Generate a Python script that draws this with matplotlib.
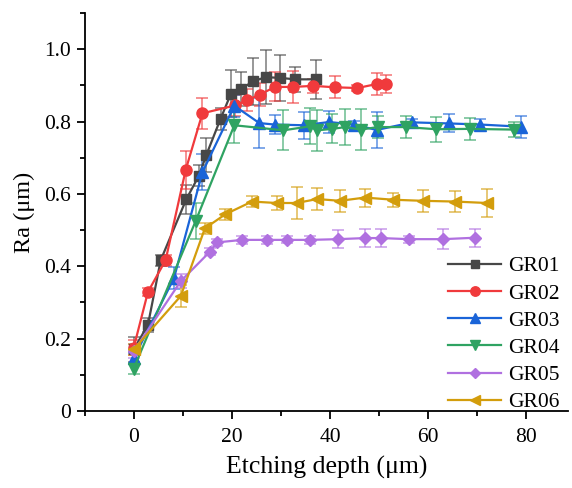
import matplotlib
matplotlib.use("Agg")
import matplotlib.pyplot as plt
from matplotlib.ticker import MultipleLocator
from matplotlib.lines import Line2D
from matplotlib.colors import to_rgba

plt.rcParams['font.family'] = ['Liberation Serif', 'DejaVu Serif']

labels = ["GR01", "GR02", "GR03", "GR04", "GR05", "GR06"]

gr01_x = [0, 2.9, 5.5, 10.7, 13.3, 14.8, 17.7, 19.8, 21.8, 24.4, 26.9, 29.9, 32.9, 37.2]
gr01_y = [0.17, 0.238, 0.417, 0.585, 0.651, 0.708, 0.808, 0.877, 0.89, 0.912, 0.923, 0.921, 0.917, 0.917]
gr01_e = [0.035, 0.02, 0.015, 0.04, 0.03, 0.047, 0.03, 0.065, 0.046, 0.065, 0.075, 0.063, 0.035, 0.053]

gr02_x = [0, 2.9, 6.5, 10.6, 14.0, 20.7, 23.1, 25.7, 28.8, 32.5, 36.6, 41.0, 45.6, 49.5, 51.4]
gr02_y = [0.175, 0.329, 0.417, 0.667, 0.823, 0.845, 0.859, 0.875, 0.896, 0.896, 0.899, 0.895, 0.893, 0.904, 0.904]
gr02_e = [0.02, 0.01, 0.015, 0.053, 0.043, 0.03, 0.03, 0.032, 0.04, 0.045, 0.02, 0.03, 0.008, 0.03, 0.025]

gr03_x = [0, 8.2, 14.0, 20.5, 25.6, 28.7, 34.7, 39.8, 44.8, 49.5, 56.8, 64.3, 70.6, 79.0]
gr03_y = [0.146, 0.367, 0.66, 0.844, 0.796, 0.792, 0.79, 0.799, 0.792, 0.777, 0.798, 0.795, 0.792, 0.786]
gr03_e = [0.015, 0.03, 0.05, 0.03, 0.07, 0.025, 0.038, 0.03, 0.01, 0.05, 0.01, 0.025, 0.015, 0.03]

gr04_x = [0, 12.65, 20.5, 30.5, 35.9, 37.4, 40.5, 43.1, 46.3, 49.7, 55.5, 61.6, 68.5, 77.5]
gr04_y = [0.117, 0.526, 0.79, 0.776, 0.787, 0.776, 0.78, 0.785, 0.778, 0.785, 0.785, 0.779, 0.78, 0.778]
gr04_e = [0.015, 0.05, 0.05, 0.055, 0.05, 0.057, 0.04, 0.05, 0.057, 0.03, 0.03, 0.035, 0.03, 0.02]

gr05_x = [0, 9.6, 15.5, 17.0, 22.1, 27.2, 31.2, 36.0, 41.7, 47.2, 50.4, 56.0, 63.1, 69.6]
gr05_y = [0.165, 0.359, 0.44, 0.466, 0.473, 0.473, 0.473, 0.473, 0.475, 0.478, 0.478, 0.475, 0.475, 0.479]
gr05_e = [0.02, 0.02, 0.01, 0.01, 0.012, 0.012, 0.01, 0.012, 0.025, 0.025, 0.025, 0.01, 0.028, 0.025]

gr06_x = [0, 9.6, 14.5, 18.7, 24.1, 29.1, 33.2, 37.4, 42.0, 47.1, 52.9, 59.0, 65.4, 72.0]
gr06_y = [0.17, 0.318, 0.505, 0.544, 0.579, 0.575, 0.575, 0.586, 0.581, 0.59, 0.584, 0.581, 0.579, 0.575]
gr06_e = [0.015, 0.03, 0.015, 0.015, 0.015, 0.02, 0.044, 0.03, 0.03, 0.025, 0.02, 0.03, 0.03, 0.04]

series = [
    (gr01_x, gr01_y, gr01_e, "#474747", "s", 7.0),
    (gr02_x, gr02_y, gr02_e, "#f03a3c", "o", 8.0),
    (gr03_x, gr03_y, gr03_e, "#1a64d8", "^", 8.0),
    (gr04_x, gr04_y, gr04_e, "#2fa362", "v", 8.0),
    (gr05_x, gr05_y, gr05_e, "#b070e0", "D", 6.5),
    (gr06_x, gr06_y, gr06_e, "#d39d0c", "<", 8.0),
]

fig = plt.figure(figsize=(5.72, 4.88), dpi=100)
ax = fig.add_axes([0.148, 0.158, 0.845, 0.815])

handles = []
for (x, y, e, c, m, ms), lab in zip(series, labels):
    ax.errorbar(x, y, yerr=e, color=c, marker=m, markersize=ms, linewidth=1.6,
                ecolor=to_rgba(c, 0.6), elinewidth=1.3, capsize=4, capthick=1.3,
                zorder=3)
    handles.append(Line2D([], [], color=c, marker=m, markersize=ms * 0.85,
                          linewidth=1.6, label=lab))

ax.set_xlim(-10, 88.5)
ax.set_ylim(0, 1.1)
ax.xaxis.set_major_locator(MultipleLocator(20))
ax.xaxis.set_minor_locator(MultipleLocator(10))
ax.yaxis.set_minor_locator(MultipleLocator(0.1))
ax.set_yticks([0, 0.2, 0.4, 0.6, 0.8, 1.0])
ax.set_yticklabels(["0", "0.2", "0.4", "0.6", "0.8", "1.0"])
ax.spines['top'].set_visible(False)
ax.spines['right'].set_visible(False)
for s in ['left', 'bottom']:
    ax.spines[s].set_linewidth(1.3)
ax.tick_params(which='major', direction='out', length=6, width=1.3, labelsize=15.5)
ax.tick_params(axis='x', which='major', pad=6)
ax.tick_params(axis='y', which='major', pad=4)
ax.tick_params(which='minor', direction='out', length=3.5, width=1.3)

ax.set_xlabel("Etching depth (\u03bcm)", fontsize=18.5, labelpad=7)
ax.set_ylabel("Ra (\u03bcm)", fontsize=17.5, labelpad=6)

ax.legend(handles=handles, loc='lower right', frameon=False, fontsize=15.5,
          handlelength=2.5, handletextpad=0.3, labelspacing=0.33,
          borderaxespad=0.0, bbox_to_anchor=(1.0, -0.025))

fig.savefig("out.png", dpi=100)
